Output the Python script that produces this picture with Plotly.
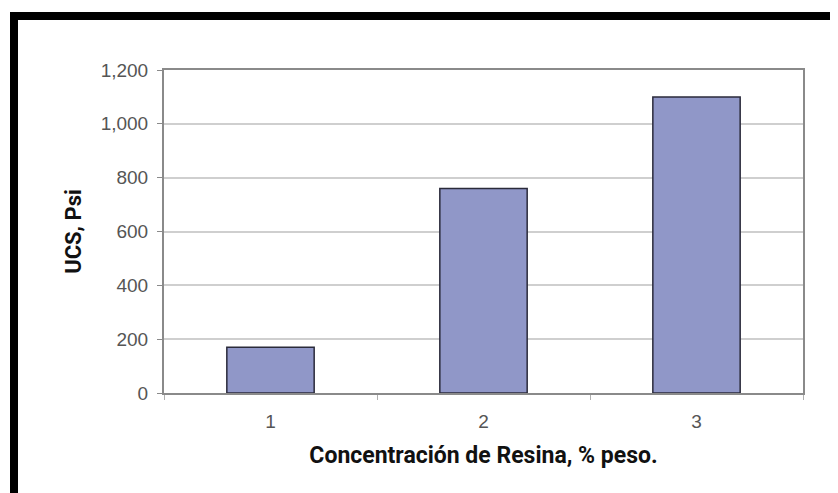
import plotly.graph_objects as go

categories = ["1", "2", "3"]
ucs_values = [170, 760, 1100]
y_tick_values = [0, 200, 400, 600, 800, 1000, 1200]
y_tick_labels = ["0", "200", "400", "600", "800", "1,000", "1,200"]

# page offset (body margin) is 8px; target coordinates are page coords
OFF = 8
W, H = 838, 493
L, R, T, B = 164 - OFF, 35 + OFF, 70 - OFF, 100 + OFF
pw, ph = W - L - R, H - T - B

def px(x):
    return (x - OFF - L) / pw

def py(y):
    return (H - B - (y - OFF)) / ph

fig = go.Figure()
fig.add_trace(go.Bar(
    x=categories, y=ucs_values,
    marker=dict(color="#9097c8", line=dict(color="#2a2a3a", width=1.5)),
))

fig.update_layout(
    width=W, height=H,
    margin=dict(l=L, r=R, t=T, b=B),
    paper_bgcolor="white", plot_bgcolor="white",
    bargap=0.59,
    showlegend=False,
    font=dict(family="Liberation Sans, Arial, sans-serif", size=19, color="#555555"),
    shapes=[
        dict(type="rect", xref="paper", yref="paper",
             x0=px(10), x1=px(860), y0=py(20), y1=py(12),
             fillcolor="black", line=dict(width=0), layer="above"),
        dict(type="rect", xref="paper", yref="paper",
             x0=px(10), x1=px(18), y0=py(520), y1=py(12),
             fillcolor="black", line=dict(width=0), layer="above"),
    ],
)
fig.update_xaxes(
    type="category",
    showline=True, linecolor="#8a8a8a", linewidth=2, mirror=True,
    ticks="outside", tickson="boundaries", ticklen=5, tickcolor="#b0b0b0",
    showgrid=False,
    ticklabelstandoff=10,
    tickfont=dict(size=19, color="#555555"),
    title=dict(text="<b>Concentración de Resina, % peso.</b>",
               font=dict(family="Roboto, Liberation Sans, sans-serif", size=23, color="#111111"),
               standoff=16),
)
fig.update_yaxes(
    range=[0, 1200],
    tickvals=y_tick_values, ticktext=y_tick_labels,
    showline=True, linecolor="#8a8a8a", linewidth=2, mirror=True,
    ticks="outside", ticklen=5, tickcolor="#8a8a8a",
    showgrid=True, gridcolor="#cfcfcf", gridwidth=1.5,
    zeroline=False,
    ticklabelstandoff=5,
    tickfont=dict(size=19, color="#555555"),
    title=dict(text="<b>UCS, Psi</b>",
               font=dict(family="Roboto, Liberation Sans, sans-serif", size=22, color="#111111"),
               standoff=13),
)

fig.write_html("out.html")
